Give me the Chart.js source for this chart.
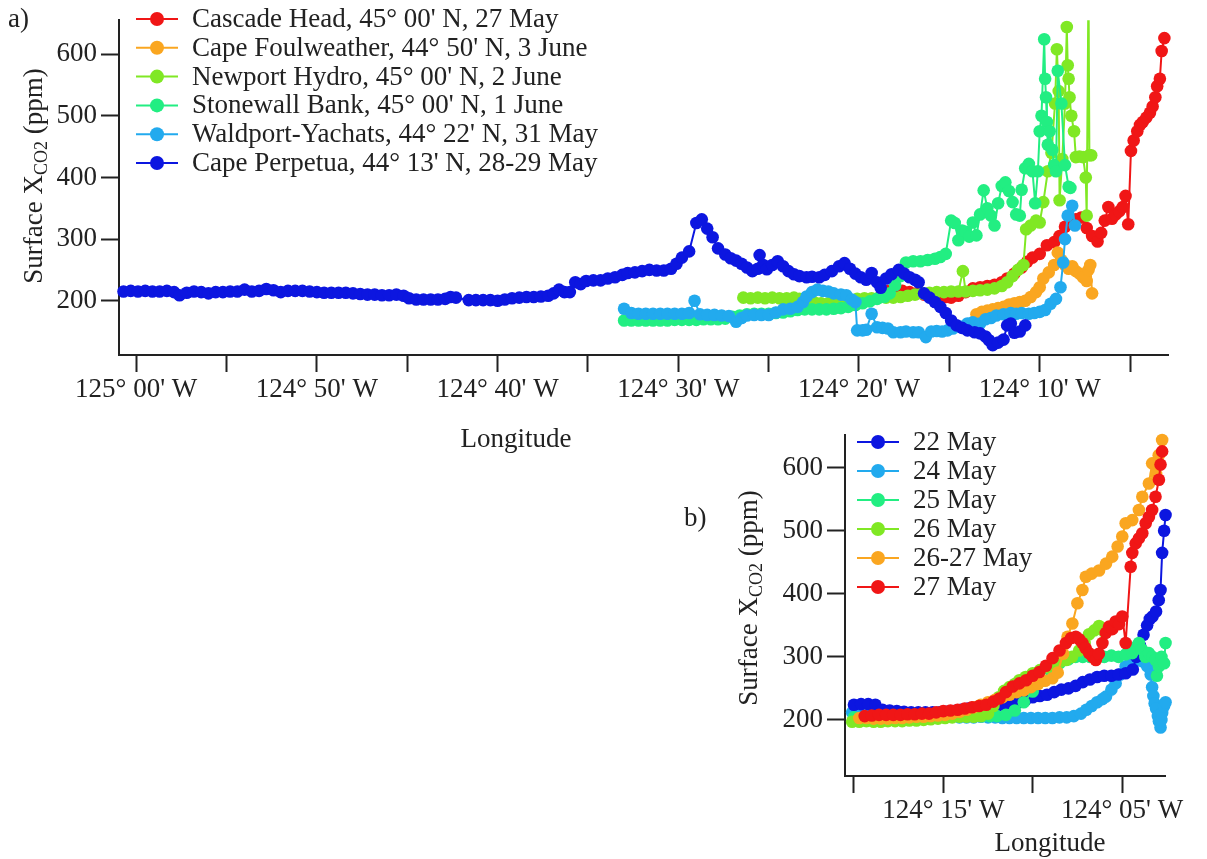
<!DOCTYPE html>
<html>
<head>
<meta charset="utf-8">
<script src="https://cdn.jsdelivr.net/npm/chart.js@4.4.1/dist/chart.umd.min.js"></script>
<style>
  html, body { margin: 0; padding: 0; background: #fff; }
  body { width: 1207px; height: 859px; position: relative; overflow: hidden; }
  canvas { position: absolute; }
  #panelA { left: 0; top: 0; }
  #panelB { left: 680px; top: 400px; }
</style>
</head>
<body>
<canvas id="panelA" width="1207" height="460"></canvas>
<canvas id="panelB" width="527" height="459"></canvas>
<script>
// x values are minutes of longitude relative to 124° 00' W (negative = further west)
const lonTicksA = [-60, -55, -50, -45, -40, -35, -30, -25, -20, -15, -10, -5];
const lonLabelsA = ["125° 00' W", "", "124° 50' W", "", "124° 40' W", "", "124° 30' W", "", "124° 20' W", "", "124° 10' W", ""];
const lonTicksB = [-20, -15, -10, -5];
const lonLabelsB = ["", "124° 15' W", "", "124° 05' W"];
const co2Ticks = [200, 300, 400, 500, 600];

// panel a, transects
const seriesNamesA = [
  "Cascade Head, 45° 00' N, 27 May",
  "Cape Foulweather, 44° 50' N, 3 June",
  "Newport Hydro, 45° 00' N, 2 June",
  "Stonewall Bank, 45° 00' N, 1 June",
  "Waldport-Yachats, 44° 22' N, 31 May",
  "Cape Perpetua, 44° 13' N, 28-29 May"
];
const cascadeHead = [[-18.4,216],[-18.0,216],[-17.6,216],[-17.2,214],[-16.8,212],[-16.4,210],[-16.0,208],[-15.6,207],[-15.2,206],[-14.9,205],[-14.5,208],[-14.1,214],[-13.7,220],[-13.3,222],[-12.9,224],[-12.5,226],[-12.1,230],[-11.8,236],[-11.4,244],[-11.0,254],[-10.7,263],[-10.4,270],[-10.0,276],[-9.6,290],[-9.2,295],[-8.9,305],[-8.6,320],[-8.3,327],[-8.0,332],[-7.7,335],[-7.4,318],[-7.1,305],[-6.8,296],[-6.6,310],[-6.4,330],[-6.2,352],[-6.0,333],[-5.8,340],[-5.6,345],[-5.4,352],[-5.25,370],[-5.1,324],[-4.95,443],[-4.8,460],[-4.6,475],[-4.45,485],[-4.3,490],[-4.1,497],[-3.9,505],[-3.75,515],[-3.6,530],[-3.5,548],[-3.35,560],[-3.25,605],[-3.1,626]];
const capeFoulweather = [[-13.5,178],[-13.2,182],[-12.9,184],[-12.6,186],[-12.3,188],[-12.0,190],[-11.7,194],[-11.4,196],[-11.1,198],[-10.8,200],[-10.5,206],[-10.2,214],[-10.0,222],[-9.8,236],[-9.5,246],[-9.2,258],[-9.0,278],[-8.8,266],[-8.6,258],[-8.4,252],[-8.2,256],[-8.0,248],[-7.8,244],[-7.6,238],[-7.4,232],[-7.3,250],[-7.2,258],[-7.1,212]];
const newportHydro = [[-26.4,205],[-26.0,204],[-25.6,205],[-25.2,204],[-24.8,205],[-24.4,204],[-24.0,204],[-23.6,205],[-23.3,203],[-22.9,200],[-22.5,198],[-22.1,196],[-21.7,196],[-21.3,197],[-20.9,198],[-20.5,200],[-20.1,203],[-19.7,204],[-19.3,204],[-18.9,205],[-18.5,205],[-18.1,205],[-17.7,206],[-17.3,208],[-16.9,210],[-16.5,212],[-16.1,213],[-15.7,214],[-15.3,214],[-14.9,215],[-14.5,215],[-14.25,248],[-14.1,215],[-13.7,216],[-13.3,217],[-12.9,218],[-12.5,220],[-12.1,224],[-11.8,230],[-11.5,240],[-11.2,250],[-10.9,258],[-10.75,316],[-10.5,322],[-10.2,330],[-10.0,327],[-9.8,360],[-9.55,410],[-9.35,440],[-9.15,520],[-9.05,608],[-8.95,540],[-8.9,363],[-8.75,430],[-8.6,520],[-8.5,644],[-8.45,582],[-8.4,560],[-8.35,530],[-8.25,500],[-8.1,475],[-8.0,433],[-7.8,434],[-7.6,433],[-7.45,400],[-7.4,338],[-7.3,720],[-7.25,436],[-7.15,436]];
const stonewallBank = [[-33.0,168],[-32.6,168],[-32.2,168],[-31.8,168],[-31.4,168],[-31.0,168],[-30.6,168],[-30.2,169],[-29.8,169],[-29.4,169],[-29.0,169],[-28.6,170],[-28.2,170],[-27.8,170],[-27.4,171],[-27.0,174],[-26.6,176],[-26.2,178],[-25.8,179],[-25.4,179],[-25.0,179],[-24.6,180],[-24.2,181],[-23.8,183],[-23.4,185],[-23.0,186],[-22.6,186],[-22.2,186],[-21.8,186],[-21.4,187],[-21.0,188],[-20.6,190],[-20.2,193],[-19.8,196],[-19.4,199],[-19.0,203],[-18.6,206],[-18.3,212],[-18.0,225],[-17.7,240],[-17.4,262],[-17.0,264],[-16.6,264],[-16.2,266],[-15.8,268],[-15.5,271],[-15.2,276],[-14.9,330],[-14.7,326],[-14.5,298],[-14.3,314],[-14.1,312],[-13.9,304],[-13.7,327],[-13.5,306],[-13.3,340],[-13.1,379],[-12.9,350],[-12.7,338],[-12.5,322],[-12.3,358],[-12.1,386],[-11.9,392],[-11.7,378],[-11.5,360],[-11.3,340],[-11.1,338],[-11.0,380],[-10.8,415],[-10.6,422],[-10.4,410],[-10.25,358],[-10.1,410],[-10.0,475],[-9.9,500],[-9.75,624],[-9.7,560],[-9.65,530],[-9.6,490],[-9.55,453],[-9.45,475],[-9.3,445],[-9.2,420],[-9.1,410],[-9.0,573],[-8.8,520],[-8.6,420],[-8.4,385],[-8.3,383]];
const waldportYachats = [[-33.0,187],[-32.6,180],[-32.2,179],[-31.8,179],[-31.4,179],[-31.0,179],[-30.6,179],[-30.2,179],[-29.8,179],[-29.4,180],[-29.1,200],[-28.8,178],[-28.4,177],[-28.0,177],[-27.6,176],[-27.2,175],[-26.8,166],[-26.5,172],[-26.2,176],[-25.8,177],[-25.4,177],[-25.0,177],[-24.6,181],[-24.2,186],[-23.8,187],[-23.4,190],[-23.1,198],[-22.9,207],[-22.6,214],[-22.3,218],[-22.0,216],[-21.7,215],[-21.4,212],[-21.0,210],[-20.7,209],[-20.4,202],[-20.2,198],[-20.1,152],[-19.8,152],[-19.6,153],[-19.3,179],[-19.0,157],[-18.7,156],[-18.4,155],[-18.1,149],[-17.7,149],[-17.4,150],[-17.0,149],[-16.7,149],[-16.3,141],[-16.0,150],[-15.7,151],[-15.4,150],[-15.1,152],[-14.8,155],[-14.4,158],[-14.0,163],[-13.7,165],[-13.3,163],[-13.0,170],[-12.7,172],[-12.4,176],[-12.0,178],[-11.6,180],[-11.3,179],[-11.0,180],[-10.6,179],[-10.3,180],[-10.0,182],[-9.7,185],[-9.4,195],[-9.1,203],[-8.85,222],[-8.7,262],[-8.6,300],[-8.45,338],[-8.2,354],[-8.05,322]];
const capePerpetua = [[-60.7,215],[-60.3,216],[-59.9,215],[-59.5,216],[-59.1,215],[-58.7,215],[-58.3,216],[-57.9,214],[-57.6,209],[-57.2,213],[-56.8,215],[-56.4,214],[-56.0,212],[-55.6,214],[-55.2,214],[-54.8,215],[-54.4,215],[-54.0,218],[-53.6,215],[-53.2,216],[-52.8,219],[-52.4,217],[-52.0,214],[-51.6,216],[-51.2,216],[-50.8,216],[-50.4,215],[-50.0,214],[-49.6,213],[-49.2,213],[-48.8,213],[-48.4,213],[-48.0,212],[-47.6,211],[-47.2,210],[-46.8,210],[-46.4,209],[-46.0,209],[-45.6,210],[-45.2,208],[-44.9,204],[-44.5,202],[-44.1,202],[-43.7,202],[-43.3,202],[-42.9,203],[-42.6,206],[-42.3,205],[-41.6,201],[-41.2,201],[-40.8,201],[-40.4,201],[-40.0,200],[-39.6,202],[-39.2,204],[-38.8,205],[-38.4,206],[-38.0,206],[-37.6,207],[-37.2,208],[-36.9,212],[-36.6,218],[-36.3,214],[-36.0,214],[-35.7,230],[-35.4,227],[-35.1,232],[-34.7,233],[-34.3,233],[-33.9,236],[-33.5,238],[-33.1,242],[-32.8,245],[-32.4,246],[-32.0,248],[-31.6,250],[-31.2,249],[-30.8,249],[-30.4,252],[-30.1,260],[-29.8,270],[-29.4,280],[-29.0,326],[-28.7,332],[-28.4,317],[-28.1,303],[-27.8,285],[-27.4,275],[-27.1,269],[-26.8,265],[-26.5,260],[-26.2,254],[-25.9,248],[-25.6,252],[-25.5,274],[-25.3,258],[-25.1,251],[-24.8,258],[-24.5,264],[-24.2,256],[-23.9,248],[-23.6,243],[-23.3,240],[-22.9,238],[-22.6,239],[-22.2,238],[-21.9,242],[-21.5,248],[-21.1,256],[-20.8,261],[-20.5,252],[-20.2,244],[-19.9,238],[-19.6,234],[-19.3,245],[-19.0,230],[-18.8,221],[-18.5,236],[-18.2,243],[-17.8,250],[-17.5,244],[-17.2,238],[-16.9,234],[-16.7,230],[-16.4,212],[-16.1,205],[-15.8,198],[-15.5,190],[-15.2,180],[-14.9,168],[-14.6,160],[-14.3,156],[-14.0,152],[-13.6,149],[-13.3,147],[-13.0,142],[-12.8,136],[-12.6,128],[-12.3,132],[-12.0,137],[-11.8,160],[-11.6,163],[-11.4,148],[-11.1,150],[-10.8,160]];

// panel b, repeated Newport line
const seriesNamesB = ["22 May", "24 May", "25 May", "26 May", "26-27 May", "27 May"];
const may22 = [[-20.0,224],[-19.6,225],[-19.2,225],[-18.8,224],[-18.4,216],[-18.0,215],[-17.6,214],[-17.2,213],[-16.8,212],[-16.4,212],[-16.0,212],[-15.6,212],[-15.2,212],[-14.8,213],[-14.4,214],[-14.0,216],[-13.6,218],[-13.2,219],[-12.8,220],[-12.4,221],[-12.0,222],[-11.6,224],[-11.2,226],[-10.8,228],[-10.4,232],[-10.0,236],[-9.6,238],[-9.2,240],[-8.8,244],[-8.4,248],[-8.0,250],[-7.6,254],[-7.2,260],[-6.8,264],[-6.4,268],[-6.0,270],[-5.6,270],[-5.2,272],[-4.8,274],[-4.4,280],[-4.2,300],[-4.0,318],[-3.8,335],[-3.6,350],[-3.45,360],[-3.3,364],[-3.1,372],[-2.95,390],[-2.85,406],[-2.76,465],[-2.65,500],[-2.57,525],[-2.48,602]];
const may24 = [[-20.1,212],[-19.7,210],[-19.3,208],[-18.9,207],[-18.5,206],[-18.1,205],[-17.7,205],[-17.3,204],[-16.9,204],[-16.5,204],[-16.1,204],[-15.7,204],[-15.3,204],[-14.9,205],[-14.5,205],[-14.1,204],[-13.7,204],[-13.3,204],[-12.9,205],[-12.5,204],[-12.1,204],[-11.7,203],[-11.3,203],[-10.9,203],[-10.5,203],[-10.1,203],[-9.7,203],[-9.3,203],[-8.9,203],[-8.5,204],[-8.1,204],[-7.7,206],[-7.3,210],[-7.0,216],[-6.7,222],[-6.4,228],[-6.1,233],[-5.9,237],[-5.6,248],[-5.36,258],[-5.1,272],[-4.8,285],[-4.5,290],[-4.2,294],[-4.0,295],[-3.8,292],[-3.59,285],[-3.4,272],[-3.32,252],[-3.25,238],[-3.18,226],[-3.1,218],[-3.0,206],[-2.94,198],[-2.85,188],[-2.8,200],[-2.76,211],[-2.65,222],[-2.57,228]];
const may25 = [[-20.0,204],[-19.6,203],[-19.2,203],[-18.8,204],[-18.4,204],[-18.0,205],[-17.6,205],[-17.2,205],[-16.8,205],[-16.4,206],[-16.0,206],[-15.6,206],[-15.2,207],[-14.8,207],[-14.4,207],[-14.0,207],[-13.6,207],[-13.2,207],[-12.8,206],[-12.4,206],[-12.0,206],[-11.5,208],[-11.0,215],[-10.5,228],[-10.0,245],[-9.5,262],[-9.0,278],[-8.5,290],[-8.0,296],[-7.6,300],[-7.2,300],[-6.8,300],[-6.4,302],[-6.0,300],[-5.6,302],[-5.2,300],[-4.8,304],[-4.43,306],[-4.2,316],[-4.06,322],[-3.9,312],[-3.7,300],[-3.5,306],[-3.3,300],[-3.13,295],[-3.05,270],[-2.94,285],[-2.8,300],[-2.65,290],[-2.57,322],[-2.5,475]];
const may26 = [[-20.1,197],[-19.7,197],[-19.3,198],[-18.9,197],[-18.5,197],[-18.1,198],[-17.7,198],[-17.3,198],[-16.9,199],[-16.5,199],[-16.1,200],[-15.7,201],[-15.3,202],[-14.9,203],[-14.5,204],[-14.1,205],[-13.7,205],[-13.3,205],[-12.9,206],[-12.5,210],[-12.2,222],[-11.9,236],[-11.6,246],[-11.3,252],[-11.0,257],[-10.75,263],[-10.4,268],[-10.0,274],[-9.6,279],[-9.2,284],[-8.8,288],[-8.5,292],[-8.14,295],[-7.8,300],[-7.4,310],[-7.1,322],[-6.85,336],[-6.55,342],[-6.29,349],[-6.0,340]];
const may26to27 = [[-19.7,203],[-19.3,203],[-18.9,202],[-18.5,202],[-18.1,202],[-17.7,203],[-17.3,203],[-16.9,204],[-16.5,205],[-16.1,205],[-15.7,206],[-15.3,207],[-14.9,208],[-14.5,210],[-14.1,213],[-13.7,216],[-13.3,220],[-12.9,224],[-12.5,228],[-12.1,232],[-11.7,236],[-11.3,240],[-10.9,244],[-10.5,247],[-10.1,252],[-9.7,257],[-9.3,262],[-8.9,266],[-8.6,275],[-8.3,305],[-8.05,332],[-7.78,353],[-7.5,385],[-7.22,406],[-7.03,427],[-6.7,432],[-6.29,437],[-5.9,448],[-5.55,459],[-5.25,475],[-4.99,491],[-4.8,512],[-4.43,517],[-4.06,533],[-3.87,554],[-3.5,575],[-3.32,607],[-3.1,590],[-2.95,620],[-2.76,644]];
const may27 = [[-19.4,206],[-19.0,207],[-18.6,208],[-18.2,208],[-17.8,208],[-17.4,208],[-17.0,209],[-16.6,209],[-16.2,210],[-15.8,210],[-15.4,212],[-15.0,214],[-14.6,215],[-14.2,216],[-13.8,218],[-13.4,220],[-13.0,222],[-12.6,224],[-12.2,229],[-11.86,234],[-11.5,244],[-11.12,253],[-10.75,258],[-10.37,263],[-10.0,270],[-9.63,276],[-9.26,286],[-8.89,298],[-8.5,310],[-8.14,322],[-7.85,330],[-7.59,332],[-7.4,328],[-7.22,322],[-7.05,314],[-6.85,306],[-6.65,300],[-6.47,295],[-6.3,305],[-6.1,322],[-5.91,338],[-5.73,348],[-5.55,344],[-5.36,356],[-5.17,352],[-4.99,364],[-4.8,322],[-4.52,443],[-4.43,465],[-4.24,480],[-4.06,488],[-3.87,496],[-3.68,512],[-3.5,522],[-3.32,533],[-3.13,554],[-2.94,581],[-2.85,605],[-2.76,626]];

const RED = 'rgb(240,22,22)';
const ORANGE = 'rgb(250,166,32)';
const YGREEN = 'rgb(128,232,36)';
const SGREEN = 'rgb(34,238,130)';
const SKY = 'rgb(34,170,238)';
const BLUE = 'rgb(12,22,224)';
const FONT = '"Liberation Serif", "Times New Roman", serif';
const INK = '#222';
const TEXT_SIZE = 27;

function makeDataset(label, pairs, color, order) {
  return {
    label: label,
    data: pairs.map(p => ({ x: p[0], y: p[1] })),
    showLine: true,
    borderColor: color,
    backgroundColor: color,
    borderWidth: 2,
    pointRadius: 6.3,
    pointBorderWidth: 0,
    pointBackgroundColor: color,
    tension: 0,
    order: order
  };
}

function drawYTitle(ctx, cx, cy) {
  ctx.save();
  ctx.translate(cx, cy);
  ctx.rotate(-Math.PI / 2);
  ctx.fillStyle = INK;
  ctx.textBaseline = 'middle';
  ctx.textAlign = 'left';
  const big = TEXT_SIZE + 'px ' + FONT, small = '18px ' + FONT;
  ctx.font = big;
  const w1 = ctx.measureText('Surface X').width;
  const w3 = ctx.measureText(' (ppm)').width;
  ctx.font = small;
  const w2 = ctx.measureText('CO2').width;
  const x = -(w1 + w2 + w3) / 2;
  ctx.font = big;
  ctx.fillText('Surface X', x, 0);
  ctx.font = small;
  ctx.fillText('CO2', x + w1, 7);
  ctx.font = big;
  ctx.fillText(' (ppm)', x + w1 + w2, 0);
  ctx.restore();
}

function drawLegend(ctx, datasets, order, x0, y0, step) {
  ctx.save();
  order.forEach((idx, i) => {
    const ds = datasets[idx];
    const y = y0 + i * step;
    ctx.strokeStyle = ds.borderColor;
    ctx.lineWidth = 2;
    ctx.beginPath();
    ctx.moveTo(x0, y);
    ctx.lineTo(x0 + 42, y);
    ctx.stroke();
    ctx.fillStyle = ds.borderColor;
    ctx.beginPath();
    ctx.arc(x0 + 21, y, 7, 0, Math.PI * 2);
    ctx.fill();
    ctx.fillStyle = INK;
    ctx.font = TEXT_SIZE + 'px ' + FONT;
    ctx.textBaseline = 'middle';
    ctx.textAlign = 'left';
    ctx.fillText(ds.label, x0 + 56, y + 1);
  });
  ctx.restore();
}

function axisOptions(cfg) {
  const tickFont = { family: FONT, size: TEXT_SIZE };
  return {
    x: {
      type: 'linear',
      min: cfg.xMin,
      max: cfg.xMax,
      afterBuildTicks: s => { s.ticks = cfg.xTicks.map(v => ({ value: v })); },
      afterFit: s => { s.height = cfg.xHeight; },
      ticks: {
        autoSkip: false,
        maxRotation: 0,
        padding: 2,
        color: INK,
        font: tickFont,
        callback: v => cfg.xLabels[cfg.xTicks.indexOf(v)] || ''
      },
      grid: { drawOnChartArea: false, drawTicks: true, tickLength: 17, tickWidth: 2, tickColor: INK },
      border: { display: true, color: INK, width: 2 }
    },
    y: {
      type: 'linear',
      min: cfg.yMin,
      max: cfg.yMax,
      afterBuildTicks: s => { s.ticks = co2Ticks.map(v => ({ value: v })); },
      afterFit: s => { s.width = cfg.yWidth; },
      ticks: { padding: 4, color: INK, font: tickFont, callback: v => String(v) },
      grid: { drawOnChartArea: false, drawTicks: true, tickLength: 18, tickWidth: 2, tickColor: INK },
      border: { display: true, color: INK, width: 2 }
    }
  };
}

// Panel a
const dsA = [
  makeDataset(seriesNamesA[0], cascadeHead, RED, 5),
  makeDataset(seriesNamesA[1], capeFoulweather, ORANGE, 4),
  makeDataset(seriesNamesA[2], newportHydro, YGREEN, 3),
  makeDataset(seriesNamesA[3], stonewallBank, SGREEN, 2),
  makeDataset(seriesNamesA[4], waldportYachats, SKY, 1),
  makeDataset(seriesNamesA[5], capePerpetua, BLUE, 0)
];

new Chart(document.getElementById('panelA'), {
  type: 'scatter',
  data: { datasets: dsA },
  options: {
    responsive: false,
    animation: false,
    clip: { left: 8, top: 0, right: 8, bottom: 8 },
    layout: { padding: { left: 0, top: 13, right: 39, bottom: 5 } },
    scales: axisOptions({
      xMin: -60.95, xMax: -2.9, xTicks: lonTicksA, xLabels: lonLabelsA, xHeight: 100,
      yMin: 112, yMax: 655, yWidth: 119
    }),
    plugins: { legend: { display: false }, tooltip: { enabled: false } }
  },
  plugins: [{
    id: 'panelAText',
    afterDraw(chart) {
      const ctx = chart.ctx;
      ctx.save();
      ctx.fillStyle = INK;
      ctx.font = TEXT_SIZE + 'px ' + FONT;
      ctx.textBaseline = 'middle';
      ctx.textAlign = 'left';
      ctx.fillText('a)', 8, 20);
      ctx.textAlign = 'center';
      ctx.fillText('Longitude', 516, 440);
      ctx.restore();
      drawYTitle(ctx, 35, 176);
      drawLegend(ctx, chart.data.datasets, [0, 1, 2, 3, 4, 5], 136, 19, 28.8);
    }
  }]
});

// Panel b
const dsB = [
  makeDataset(seriesNamesB[0], may22, BLUE, 4),
  makeDataset(seriesNamesB[1], may24, SKY, 5),
  makeDataset(seriesNamesB[2], may25, SGREEN, 3),
  makeDataset(seriesNamesB[3], may26, YGREEN, 2),
  makeDataset(seriesNamesB[4], may26to27, ORANGE, 1),
  makeDataset(seriesNamesB[5], may27, RED, 0)
];

new Chart(document.getElementById('panelB'), {
  type: 'scatter',
  data: { datasets: dsB },
  options: {
    responsive: false,
    animation: false,
    clip: { left: 8, top: 8, right: 10, bottom: 8 },
    layout: { padding: { left: 0, top: 35, right: 42, bottom: 0 } },
    scales: axisOptions({
      xMin: -20.5, xMax: -2.6, xTicks: lonTicksB, xLabels: lonLabelsB, xHeight: 83,
      yMin: 111, yMax: 652, yWidth: 165
    }),
    plugins: { legend: { display: false }, tooltip: { enabled: false } }
  },
  plugins: [{
    id: 'panelBText',
    afterDraw(chart) {
      const ctx = chart.ctx;
      ctx.save();
      ctx.fillStyle = INK;
      ctx.font = TEXT_SIZE + 'px ' + FONT;
      ctx.textBaseline = 'middle';
      ctx.textAlign = 'left';
      ctx.fillText('b)', 4, 119);
      ctx.textAlign = 'center';
      ctx.fillText('Longitude', 370, 444);
      ctx.restore();
      drawYTitle(ctx, 70, 198);
      drawLegend(ctx, chart.data.datasets, [0, 1, 2, 3, 4, 5], 177, 42, 29);
    }
  }]
});
</script>
</body>
</html>
